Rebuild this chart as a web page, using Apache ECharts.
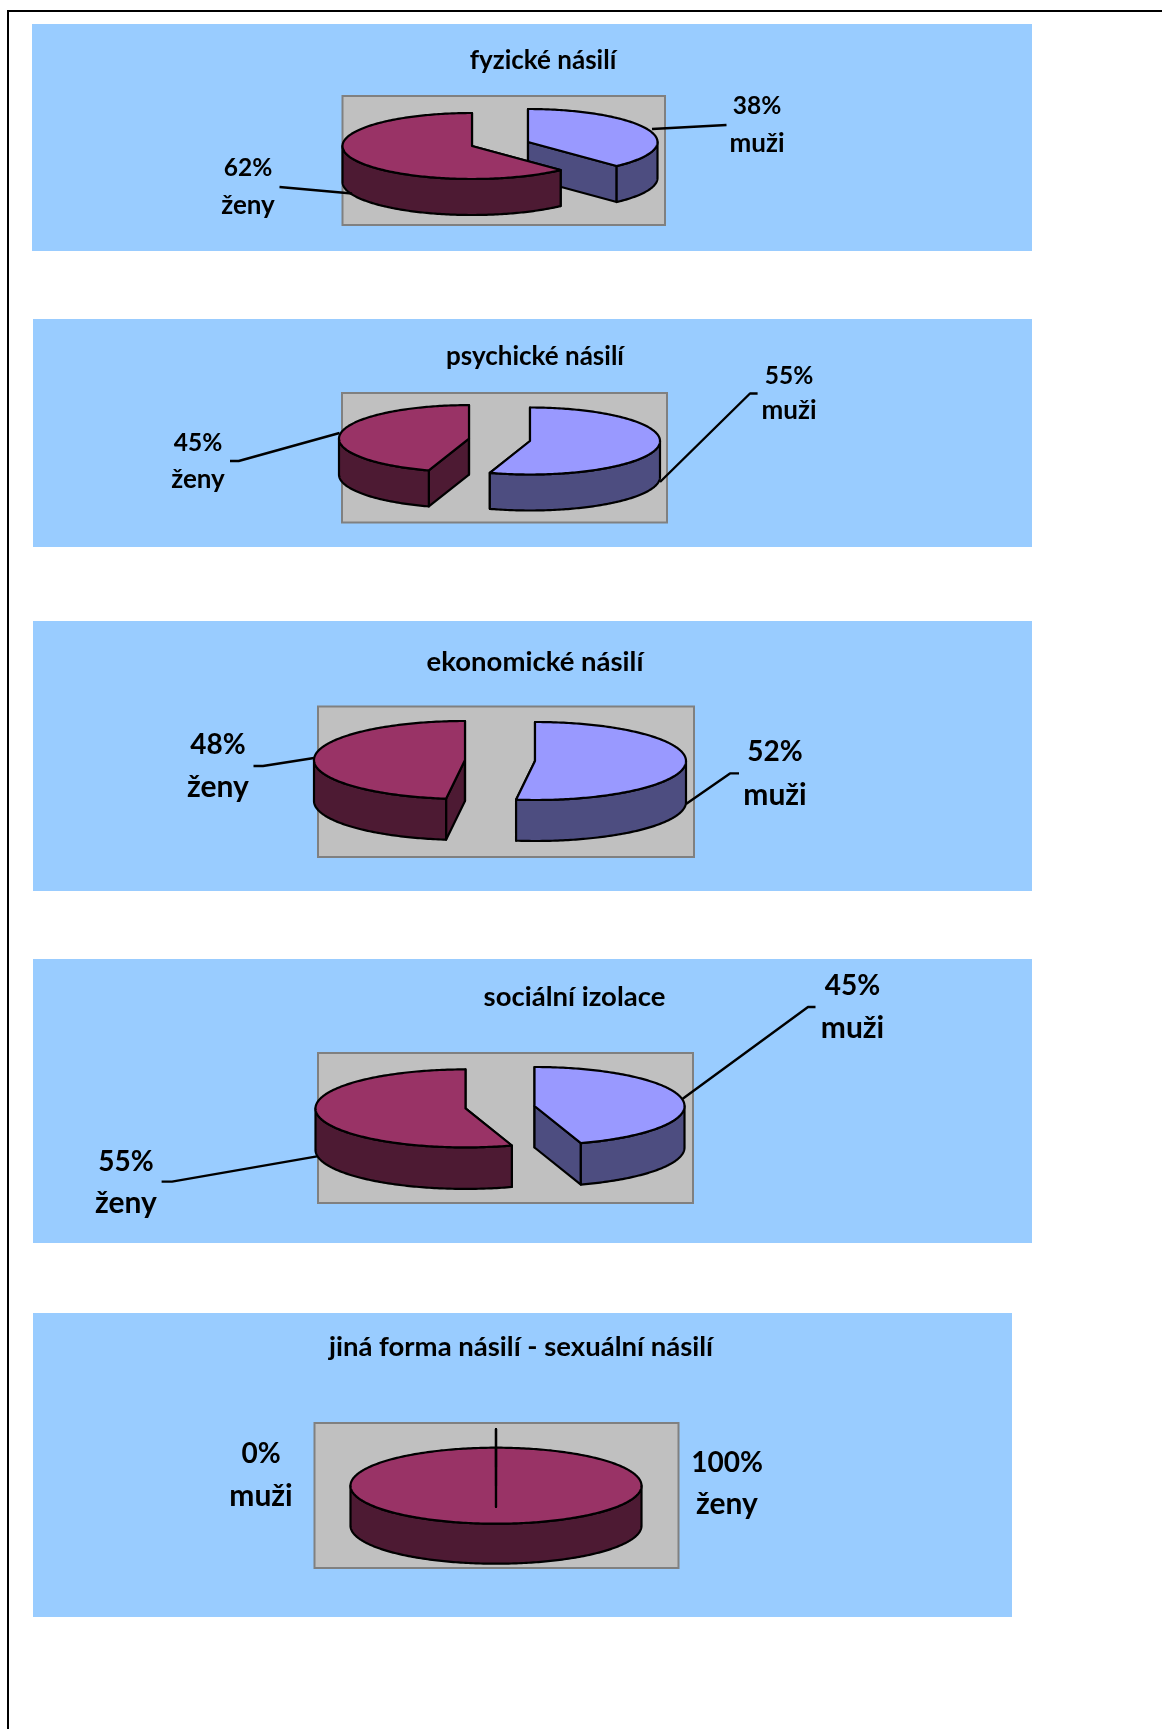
<!DOCTYPE html>
<html>
<head>
<meta charset="utf-8">
<style>html,body{margin:0;padding:0;background:#fff}#c{width:1162px;height:1729px}</style>
<script src="https://cdn.jsdelivr.net/npm/echarts@6/dist/echarts.min.js"></script>
</head>
<body>
<div id="c"></div>
<script>
// ---- data ----
const chartTitles = ['fyzické násilí','psychické násilí','ekonomické násilí','sociální izolace','jiná forma násilí - sexuální násilí'];
const sliceNames = ['muži','ženy'];
const muziPercent = [38,55,52,45,0];
const zenyPercent = [62,45,48,55,100];

// ---- layout (positions and styles only) ----
const panels = [
 {bg:[32,24,1032,251], plot:[342.5,96,665,225], title:[543,61], titleFont:26, rx:129.5, ry:33, depth:36, font:24.5, nameFont:26,
  order:[0,1],
  apex:[[528,142],[472,146]],
  label:[[757,106,144],[248,168,206]],
  leader:[[[652,129],[726.5,125]],[[352,193.5],[279.5,187]]]},
 {bg:[33,319,1032,547], plot:[342,393,667,522.5], title:[535,357], titleFont:26, rx:130, ry:33.5, depth:36, font:24.5, nameFont:26,
  order:[0,1],
  apex:[[530,441],[469,438.6]],
  label:[[789,376,411],[198,443,480]],
  leader:[[[660,482],[750,393.5],[757.6,393.5]],[[339.5,433],[238.7,461],[230,461]]]},
 {bg:[33,621,1032,891], plot:[318,706.5,694,857], title:[535,662], titleFont:27.5, rx:151, ry:39, depth:41, font:28, nameFont:30,
  order:[0,1],
  apex:[[535,761],[465,760]],
  label:[[775,752,795],[218,745,787]],
  leader:[[[686,804],[730,773.4],[739,773.4]],[[314,758],[263,766],[253.5,766]]]},
 {bg:[33,959,1032,1243], plot:[318,1053,693,1203], title:[574.5,996.5], titleFont:27.5, rx:150,ry:39, depth:41.5, font:28, nameFont:30,
  order:[0,1],
  apex:[[534.5,1106],[465.5,1108.4]],
  label:[[852.5,986,1028.5],[126,1161.5,1203]],
  leader:[[[682.7,1098.7],[808,1007],[815.5,1007]],[[317,1156.4],[172,1181.6],[161.6,1181.6]]]},
 {bg:[33,1313,1012,1617], plot:[314.5,1423,678.5,1568], title:[521,1347], titleFont:27.5, rx:145.5, ry:38, depth:40, font:28, nameFont:30,
  order:[1,0],
  apex:[[496,1467],[496,1485.7]],
  label:[[261,1454,1496],[727,1462.7,1504.7]],
  leader:[[],[]]}
];
const topColors = ['#9999FF','#993366'];
const wallColors = ['#4D4D80','#4D1A33'];
const fontFamily = 'Lato, Carlito, sans-serif';
const edge = {stroke:'#000', lineWidth:2.2, lineJoin:'round'};

function makeRenderItem(panel){
  return function(params, api){
    const from = api.value(0) * 3.6, to = api.value(1) * 3.6, who = api.value(2);
    const [cx, cy] = panel.apex[who];
    const pt = (deg, dy) => {
      const t = deg * Math.PI / 180;
      return [cx + panel.rx * Math.sin(t), cy - panel.ry * Math.cos(t) + dy];
    };
    const arc = (a, b, dy) => {
      const out = [], n = Math.max(1, Math.ceil(Math.abs(b - a)));
      for (let i = 0; i <= n; i++) out.push(pt(a + (b - a) * i / n, dy));
      return out;
    };
    const children = [];
    const poly = (points, fill) => children.push({type:'polygon', shape:{points}, style:Object.assign({fill}, edge)});
    const d = panel.depth;
    // cut faces
    [from, to].forEach(a => {
      const e = pt(a, 0), e2 = pt(a, d);
      poly([[cx, cy], e, e2, [cx, cy + d]], wallColors[who]);
    });
    // outer wall, the part that faces the viewer
    const wa = Math.max(from, 90), wb = Math.min(to, 270);
    if (wa < wb) poly(arc(wa, wb, 0).concat(arc(wb, wa, d)), wallColors[who]);
    // top face
    poly([[cx, cy]].concat(arc(from, to, 0)), topColors[who]);
    // leader line
    if (panel.leader[who].length) {
      children.push({type:'polyline', shape:{points:panel.leader[who]},
        style:{fill:null, stroke:'#000', lineWidth:2.4, lineJoin:'round'}});
    }
    // labels
    const [lx, y1, y2] = panel.label[who];
    const value = Math.round(api.value(1) - api.value(0));
    children.push({type:'text', style:{text:value + '%', x:lx, y:y1, align:'center', verticalAlign:'middle',
      font:'bold ' + panel.font + 'px ' + fontFamily, fill:'#000'}});
    children.push({type:'text', style:{text:sliceNames[who], x:lx, y:y2, align:'center', verticalAlign:'middle',
      font:'bold ' + panel.nameFont + 'px ' + fontFamily, fill:'#000'}});
    return {type:'group', children};
  };
}

const series = panels.map((panel, i) => {
  const spans = [[0, muziPercent[i], 0],[muziPercent[i], muziPercent[i] + zenyPercent[i], 1]];
  return {
    type:'custom', coordinateSystem:'none', name:chartTitles[i], silent:true, animation:false,
    z:5, renderItem:makeRenderItem(panel),
    data:panel.order.map(k => spans[k])
  };
});

const rect = (b, style, z) => ({type:'rect', z, silent:true,
  shape:{x:b[0], y:b[1], width:b[2]-b[0], height:b[3]-b[1]}, style});
const graphics = [
  {type:'line', z:1, silent:true, shape:{x1:8, y1:11, x2:1162, y2:11}, style:{stroke:'#000', lineWidth:2}},
  {type:'line', z:1, silent:true, shape:{x1:8, y1:10, x2:8, y2:1729}, style:{stroke:'#000', lineWidth:2}}
];
panels.forEach(p => {
  graphics.push(rect(p.bg, {fill:'#99CCFF'}, 1));
  graphics.push(rect(p.plot, {fill:'#C0C0C0', stroke:'#808080', lineWidth:2}, 2));
});

const chart = echarts.init(document.getElementById('c'), null, {renderer:'canvas', width:1162, height:1729});
chart.setOption({
  backgroundColor:'#fff',
  animation:false,
  title:panels.map((p, i) => ({
    text:chartTitles[i], left:p.title[0], top:p.title[1] - p.titleFont * 0.5, textAlign:'center',
    padding:0, textStyle:{fontFamily, fontWeight:'bold', fontSize:p.titleFont, color:'#000'}
  })),
  graphic:{elements:graphics},
  series
});
</script>
</body>
</html>
